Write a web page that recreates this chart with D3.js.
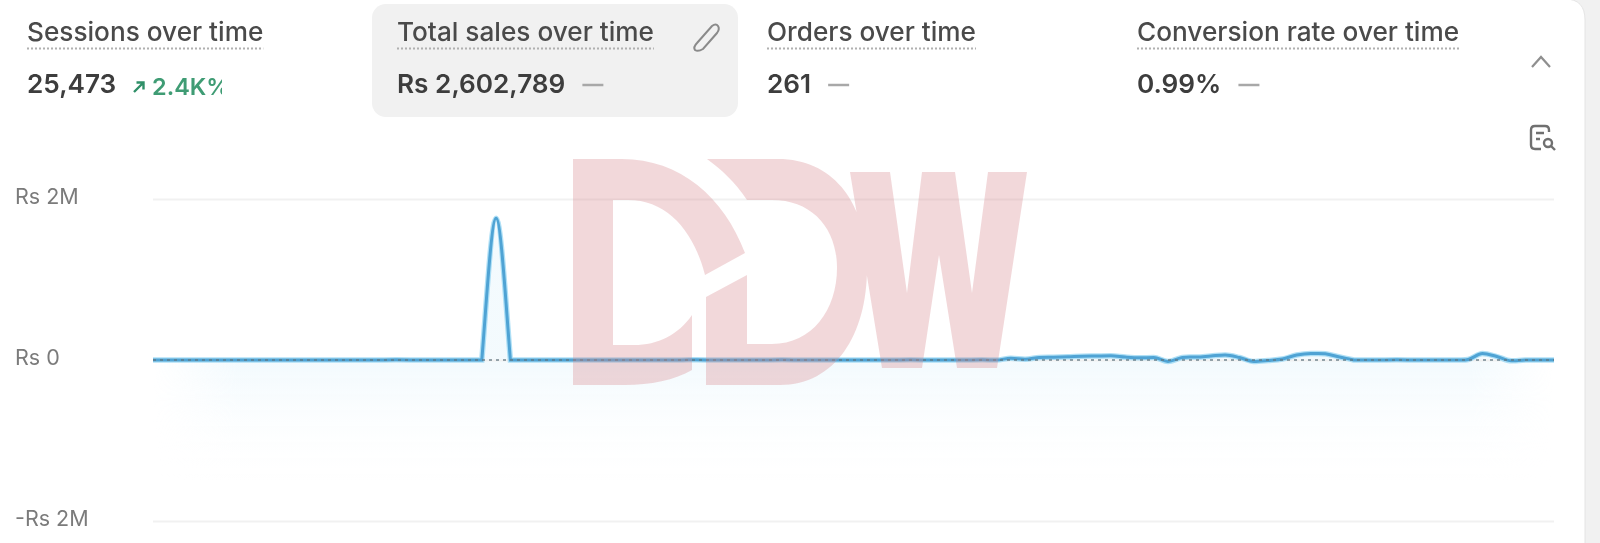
<!DOCTYPE html>
<html>
<head>
<meta charset="utf-8">
<script src="https://cdnjs.cloudflare.com/ajax/libs/d3/7.8.5/d3.min.js"></script>
<style>
  html, body { margin: 0; padding: 0; background: #f1f1f1; overflow: hidden; }
  svg { display: block; font-family: Inter, sans-serif; filter: blur(0.7px); }
</style>
</head>
<body>
<script>
var w = 1600;
var h = 543;

var titles = ["Sessions over time", "Total sales over time", "Orders over time", "Conversion rate over time"];
var totals = ["25,473", "Rs 2,602,789", "261", "0.99%"];
var deltaLabel = "2.4K%";

var yTicks = [-2000000, 0, 2000000];
var yTickLabels = ["-Rs 2M", "Rs 0", "Rs 2M"];

// one value per day
var sales = [
  0, 0, 1000, 0, 0, 0, 1500, 0, 0, 0,
  0, 0, 0, 0, 0, 0, 0, 2500, 1500, 0,
  0, 0, 0, 0, 1760000, 0, 0, 0, 0, 0,
  0, 0, 1000, 0, 0, 0, 0, 1500, 2000, 0,
  0, 1500, 0, 0, 2500, 0, 0, 0, 0, 0,
  1500, 0, 0, 2500, 0, 0, 0, 0, 2000, 0,
  22000, 10000, 31000, 35000, 40000, 47000, 50000, 53000, 37000, 28000,
  31000, -18000, 31000, 37000, 50000, 62000, 31000, -18000, -6000, 12000,
  62000, 81000, 78000, 37000, 0, 0, 0, 2000, 0, 0,
  0, 0, 6000, 81000, 43000, -10000, 0, 0, 0
];
var previous = sales.map(function(d){ return 0; });

// like monotoneX, but leaves a flat stretch with a corner instead of an S,
// the spike in the source has a sharp foot and a round top
function FootCurve(context) {
    this._context = context;
}
FootCurve.prototype = {
    areaStart: function(){ this._line = 0; },
    areaEnd: function(){ this._line = NaN; },
    lineStart: function(){ this._pts = []; },
    point: function(px, py){ this._pts.push([+px, +py]); },
    lineEnd: function(){
        var p = this._pts, n = p.length, c = this._context;
        if (n) {
            if (this._line) c.lineTo(p[0][0], p[0][1]);
            else c.moveTo(p[0][0], p[0][1]);
        }
        function slope(i){
            if (i < 0 || i >= n - 1) return 0;
            return (p[i + 1][1] - p[i][1]) / (p[i + 1][0] - p[i][0]);
        }
        function tangent(a, b){
            // a is the segment we are drawing, b the neighbour
            if (b === 0) return 1.25 * a;
            if (a === 0 || a * b < 0) return 0;
            return (a + b) / 2;
        }
        for (var i = 0; i < n - 1; i++) {
            var s = slope(i);
            var dx = (p[i + 1][0] - p[i][0]) / 3;
            var t0 = tangent(s, slope(i - 1));
            var t1 = tangent(s, slope(i + 1));
            c.bezierCurveTo(p[i][0] + dx, p[i][1] + t0 * dx,
                            p[i + 1][0] - dx, p[i + 1][1] - t1 * dx,
                            p[i + 1][0], p[i + 1][1]);
        }
        if (this._line) c.closePath();
        this._line = 1 - this._line;
    }
};
function curve(context) {
    return new FootCurve(context);
}

var svg = d3.select("body")
            .append("svg")
            .attr("width", w)
            .attr("height", h);

var defs = svg.append("defs");
var grad = defs.append("linearGradient")
               .attr("id", "fade")
               .attr("gradientUnits", "userSpaceOnUse")
               .attr("x1", 0).attr("x2", 0)
               .attr("y1", 218).attr("y2", 490);
grad.append("stop").attr("offset", "0%").attr("stop-color", "#e6f5fc").attr("stop-opacity", 0.45);
grad.append("stop").attr("offset", "55%").attr("stop-color", "#e6f5fc").attr("stop-opacity", 0.45);
grad.append("stop").attr("offset", "100%").attr("stop-color", "#ffffff").attr("stop-opacity", 0);

// area fades out towards the sides as well
var sideGrad = defs.append("linearGradient")
                   .attr("id", "sides")
                   .attr("gradientUnits", "userSpaceOnUse")
                   .attr("x1", 153).attr("x2", 1554)
                   .attr("y1", 0).attr("y2", 0);
sideGrad.append("stop").attr("offset", "0%").attr("stop-color", "#000");
sideGrad.append("stop").attr("offset", "6%").attr("stop-color", "#fff");
sideGrad.append("stop").attr("offset", "94%").attr("stop-color", "#fff");
sideGrad.append("stop").attr("offset", "100%").attr("stop-color", "#000");
defs.append("mask")
    .attr("id", "sideMask")
    .attr("maskUnits", "userSpaceOnUse")
    .attr("x", 0).attr("y", 0)
    .attr("width", w).attr("height", h)
    .append("rect")
    .attr("width", w).attr("height", h)
    .attr("fill", "url(#sides)");

// only used to cut the delta label like in the source
defs.append("clipPath")
    .attr("id", "deltaClip")
    .append("rect")
    .attr("x", 150).attr("y", 70)
    .attr("width", 72).attr("height", 35);

// card
svg.append("path")
   .attr("d", "M0,-1 H1565 Q1585,-1 1585,20 V543 H0 Z")
   .attr("fill", "#ffffff");
svg.append("path")
   .attr("d", "M1565,-1 Q1585,-1 1585,20 V543")
   .attr("fill", "none")
   .attr("stroke", "#e4e4e4")
   .attr("stroke-width", 1);

// selected tile
svg.append("rect")
   .attr("x", 372).attr("y", 4)
   .attr("width", 366).attr("height", 113)
   .attr("rx", 14)
   .attr("fill", "#f1f1f1");

var tileX = [27, 397, 767, 1137];

var heads = svg.selectAll("g.head")
   .data(titles)
   .enter()
   .append("g")
   .attr("class", "head")
   .attr("transform", function(d, i){ return "translate(" + tileX[i] + ",0)"; });

heads.append("text")
   .attr("class", "title")
   .attr("y", 41)
   .attr("font-size", "26.2px")
   .attr("font-weight", 500)
   .attr("fill", "#4a4a4a")
   .text(function(d){ return d; });

heads.append("line")
   .attr("y1", 48.5).attr("y2", 48.5)
   .attr("x1", 0)
   .attr("x2", function(){
       return this.parentNode.querySelector("text").getComputedTextLength();
   })
   .attr("stroke", "#b0b0b0")
   .attr("stroke-width", 2)
   .attr("stroke-dasharray", "2 2");

heads.append("text")
   .attr("class", "total")
   .attr("y", 93)
   .attr("font-size", "26.2px")
   .attr("font-weight", 600)
   .attr("fill", "#3d3d3d")
   .text(function(d, i){ return totals[i]; });

// dash next to the totals, not on sessions
heads.filter(function(d, i){ return i > 0; })
   .append("line")
   .attr("y1", 85).attr("y2", 85)
   .attr("x1", function(){
       return this.parentNode.querySelector(".total").getComputedTextLength() + 17;
   })
   .attr("x2", function(){
       return this.parentNode.querySelector(".total").getComputedTextLength() + 38;
   })
   .attr("stroke", "#a8a8a8")
   .attr("stroke-width", 2.5);

// sessions delta
svg.append("path")
   .attr("d", "M134,92 L143,83 M136.5,82.5 H143.5 V89.5")
   .attr("fill", "none")
   .attr("stroke", "#2f8f68")
   .attr("stroke-width", 2.4);
svg.append("text")
   .attr("x", 152).attr("y", 95)
   .attr("clip-path", "url(#deltaClip)")
   .attr("font-size", "23.5px")
   .attr("font-weight", 600)
   .attr("fill", "#3f9c74")
   .text(deltaLabel);

// pencil
svg.append("path")
   .attr("d", "M697,43 L712,26 Q716,23 718,26 Q720,29 717,33 L703,49 Q698,52 695,50 Q693,47 697,43 Z")
   .attr("fill", "none")
   .attr("stroke", "#8a8a8a")
   .attr("stroke-width", 2);

// chevron
svg.append("path")
   .attr("d", "M1532,67 L1541,57 L1550,67")
   .attr("fill", "none")
   .attr("stroke", "#8f8f8f")
   .attr("stroke-width", 2.2);

// report icon
svg.append("path")
   .attr("d", "M1549,132 V130 Q1549,126 1545,126 H1535 Q1531,126 1531,130 V145 Q1531,149 1535,149 H1541")
   .attr("fill", "none")
   .attr("stroke", "#707070")
   .attr("stroke-width", 2.4);
svg.append("path")
   .attr("d", "M1536,133 H1544 M1536,139 H1540")
   .attr("stroke", "#707070")
   .attr("stroke-width", 2.4);
svg.append("circle")
   .attr("cx", 1548).attr("cy", 143).attr("r", 4)
   .attr("fill", "none")
   .attr("stroke", "#707070")
   .attr("stroke-width", 2.4);
svg.append("path")
   .attr("d", "M1551,146 L1555,150")
   .attr("stroke", "#707070")
   .attr("stroke-width", 2.4);

// scales
var x = d3.scaleLinear().domain([0, sales.length - 1]).range([153, 1554]);
var y = d3.scaleLinear().domain([-2000000, 2000000]).range([521, 199]);

// area first so the gridlines sit on it
var area = d3.area()
   .x(function(d, i){ return x(i); })
   .y0(y(-1600000))
   .y1(function(d){ return y(d); })
   .curve(curve);

svg.append("path")
   .datum(sales)
   .attr("d", area)
   .attr("fill", "url(#fade)")
   .attr("mask", "url(#sideMask)");

var axis = d3.axisLeft(y)
   .tickValues(yTicks)
   .tickSize(-(x.range()[1] - x.range()[0]))
   .tickPadding(0)
   .tickFormat(function(d, i){ return yTickLabels[i]; });

var gAxis = svg.append("g")
   .attr("transform", "translate(153,0)")
   .call(axis);
gAxis.select(".domain").remove();
gAxis.selectAll("line")
   .attr("stroke", "#f1f1f1")
   .attr("stroke-width", 2);
gAxis.selectAll("text")
   .attr("x", -138)
   .attr("dy", "0.22em")
   .attr("text-anchor", "start")
   .attr("font-family", "Inter, sans-serif")
   .attr("font-size", "21.5px")
   .attr("fill", "#7b7b7b");

var line = d3.line()
   .x(function(d, i){ return x(i); })
   .y(function(d){ return y(d); })
   .curve(curve);

// glow + main line
svg.append("path")
   .datum(sales)
   .attr("d", line)
   .attr("fill", "none")
   .attr("stroke", "#8fd3f2")
   .attr("stroke-width", 5.5)
   .attr("stroke-opacity", 0.7);
svg.append("path")
   .datum(sales)
   .attr("d", line)
   .attr("fill", "none")
   .attr("stroke", "#4fa3d4")
   .attr("stroke-width", 3);

// comparison period, dotted
svg.append("path")
   .datum(previous)
   .attr("d", line)
   .attr("fill", "none")
   .attr("stroke", "#5f7480")
   .attr("stroke-opacity", 0.65)
   .attr("stroke-width", 2)
   .attr("stroke-dasharray", "3 4");

// DDW watermark, one path so the overlaps don't get darker
var marks = [
  "M573,159 H622 C680,159 724,197 745,253 L705,275 C694,232 668,200 628,200 H613 V345 H634 C658,345 678,335 692,315 V370 C675,380 650,385 625,385 H573 Z " +
  "M707,159 H778 C835,159 867,205 867,268 C867,335 835,385 780,385 H706 V297 L747,275 V344 H772 C812,344 837,310 837,268 C837,228 812,200 772,200 H747 C735,182 722,170 707,159 Z " +
  "M850,172 H890 L907,293 L922,172 H955 L972,293 L988,172 H1027 L997,368 H957 L939,255 L922,368 H882 Z"
];
svg.append("g")
   .selectAll("path")
   .data(marks)
   .enter()
   .append("path")
   .attr("d", function(d){ return d; })
   .attr("fill", "#d98a8e")
   .attr("fill-opacity", 0.33);
</script>
</body>
</html>
